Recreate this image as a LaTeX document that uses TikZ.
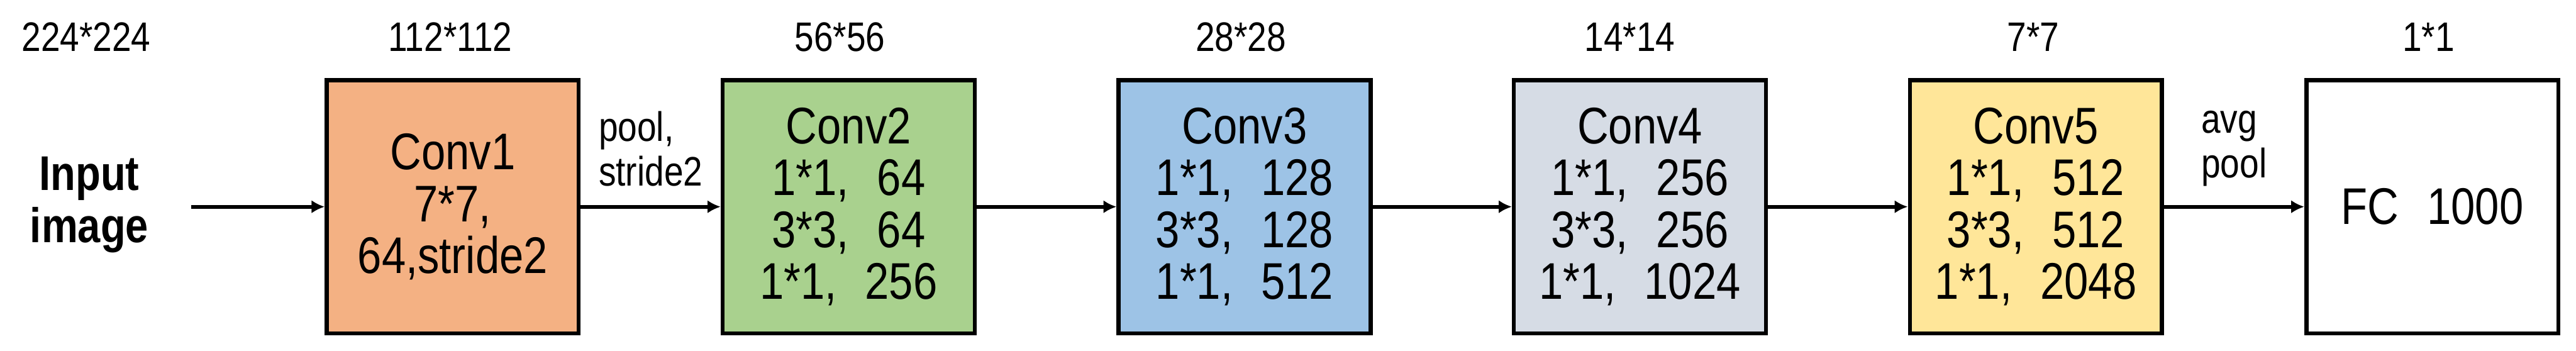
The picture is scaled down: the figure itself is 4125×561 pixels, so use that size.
\documentclass[tikz,border=0pt]{standalone}
\usepackage{fontspec}
\setmainfont{Liberation Sans}[FakeStretch=0.84]
\usetikzlibrary{arrows.meta}
\definecolor{cone}{HTML}{F4B183}
\definecolor{ctwo}{HTML}{A9D18E}
\definecolor{cthree}{HTML}{9DC3E6}
\definecolor{cfour}{HTML}{D6DCE5}
\definecolor{cfive}{HTML}{FFE699}
\newcommand{\gapp}{\hspace{0.55em}}
\begin{document}
\begin{tikzpicture}[x=0.2pt,y=-0.2pt,
  blk/.style={draw=black, line width=1.3pt, minimum width=80.7pt, minimum height=81.1pt,
    inner sep=0pt, align=center, font=\fontsize{16.5}{16.6}\selectfont},
  dimlab/.style={font=\fontsize{13.2}{14}\selectfont, inner sep=0pt},
  edgelab/.style={font=\fontsize{13.2}{14.2}\selectfont, align=left, inner sep=0pt, above=6pt},
  arr/.style={-{Latex[length=4.2pt,width=4.2pt]}, line width=1.15pt}
]
\useasboundingbox (0,0) rectangle (4125,561);
\node[blk, fill=cone] (conv1) at (725,331) {Conv1\\7*7,\\64,stride2};
\node[blk, fill=ctwo] (conv2) at (1359,331) {Conv2\\1*1,\gapp 64\\3*3,\gapp 64\\1*1,\gapp 256};
\node[blk, fill=cthree] (conv3) at (1993,331) {Conv3\\1*1,\gapp 128\\3*3,\gapp 128\\1*1,\gapp 512};
\node[blk, fill=cfour] (conv4) at (2626,331) {Conv4\\1*1,\gapp 256\\3*3,\gapp 256\\1*1,\gapp 1024};
\node[blk, fill=cfive] (conv5) at (3260,331) {Conv5\\1*1,\gapp 512\\3*3,\gapp 512\\1*1,\gapp 2048};
\node[blk, fill=white] (fc) at (3895,331) {FC\gapp 1000};
\node[font=\bfseries\fontsize{15.6}{16.6}\selectfont, align=center, inner sep=0pt] (input) at (143,328) {Input\\image};
\node[dimlab] (d0) at (138,59) {224*224};
\node[dimlab] (d1) at (721,59) {112*112};
\node[dimlab] (d2) at (1345,59) {56*56};
\node[dimlab] (d3) at (1987,59) {28*28};
\node[dimlab] (d4) at (2610,59) {14*14};
\node[dimlab] (d5) at (3256,59) {7*7};
\node[dimlab] (d6) at (3889,59) {1*1};
\coordinate (start) at (306,331);
\draw[arr] (start) -- (conv1);
\draw[arr] (conv1) -- node[edgelab] (lab1) {pool,\\stride2} (conv2);
\draw[arr] (conv2) -- (conv3);
\draw[arr] (conv3) -- (conv4);
\draw[arr] (conv4) -- (conv5);
\draw[arr] (conv5) -- node[edgelab] (lab2) {avg\\pool} (fc);
\end{tikzpicture}
\end{document}
